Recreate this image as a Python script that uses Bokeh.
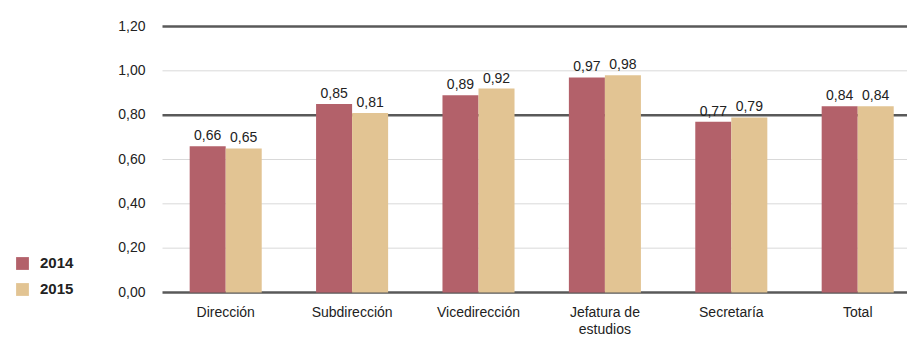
from bokeh.plotting import figure
from bokeh.models import ColumnDataSource, Legend, LegendItem, Range1d
from bokeh.core.properties import value
from bokeh.embed import file_html
from bokeh.resources import INLINE

categories = ["Dirección", "Subdirección", "Vicedirección", "Jefatura de\nestudios", "Secretaría", "Total"]
series_2014 = [0.66, 0.85, 0.89, 0.97, 0.77, 0.84]
series_2015 = [0.65, 0.81, 0.92, 0.98, 0.79, 0.84]
y_ticks = [0.0, 0.2, 0.4, 0.6, 0.8, 1.0, 1.2]
y_tick_labels = ["0,00", "0,20", "0,40", "0,60", "0,80", "1,00", "1,20"]
dark_lines = [0.0, 0.8, 1.2]
light_lines = [0.2, 0.4, 0.6, 1.0]

C14 = "#b3616a"
C15 = "#e2c493"
FONT = "Liberation Sans"
TXT = "#222222"

W, H = 907, 337
# pixel geometry of the plotting area
PX_LEFT, PX_ZERO, PX_TOP = 162, 292, 26
X_UNIT = 126.4                      # px per category
Y_UNIT = (PX_ZERO - PX_TOP) / 1.2   # px per value unit

n = len(categories)
centers = [i + 0.5 for i in range(n)]
bw = 0.285
x_end = (W - PX_LEFT) / X_UNIT

def fmt(v):
    return f"{v:.2f}".replace(".", ",")

src14 = ColumnDataSource(dict(x=[c - bw / 2 for c in centers], top=series_2014,
                              lab=[fmt(v) for v in series_2014]))
src15 = ColumnDataSource(dict(x=[c + bw / 2 for c in centers], top=series_2015,
                              lab=[fmt(v) for v in series_2015]))

p = figure(width=W, height=H, output_backend="svg", toolbar_location=None,
           x_range=Range1d(-PX_LEFT / X_UNIT, x_end),
           y_range=Range1d(-(H - PX_ZERO) / Y_UNIT, 1.2 + PX_TOP / Y_UNIT),
           min_border=0)
p.outline_line_color = None
p.background_fill_color = "white"
p.border_fill_color = "white"
p.xaxis.visible = False
p.yaxis.visible = False
p.grid.visible = False

# gridlines
p.segment(x0=[0] * len(light_lines), x1=[x_end] * len(light_lines), y0=light_lines, y1=light_lines,
          line_color="#d9d9d9", line_width=1)
p.segment(x0=[0] * len(dark_lines), x1=[x_end] * len(dark_lines), y0=dark_lines, y1=dark_lines,
          line_color="#595959", line_width=2.5)

# y tick labels
p.text(x=[0] * len(y_ticks), y=y_ticks, text=y_tick_labels, x_offset=-17, y_offset=-1,
       text_align="right", text_baseline="middle", text_font=value(FONT),
       text_font_size="14px", text_color=TXT)

# bars
r14 = p.vbar(x="x", top="top", width=bw, bottom=0, source=src14, fill_color=C14, line_color=None)
r15 = p.vbar(x="x", top="top", width=bw, bottom=0, source=src15, fill_color=C15, line_color=None)

# value labels
for src in (src14, src15):
    p.text(x="x", y="top", text="lab", source=src, text_align="center", text_baseline="alphabetic",
           y_offset=-11, text_font=value(FONT), text_font_size="14px", text_color=TXT)

# category labels
p.text(x=centers, y=[0] * n, text=categories, y_offset=11, text_align="center",
       text_baseline="top", text_font=value(FONT), text_font_size="14px", text_color=TXT,
       text_line_height=1.08)

legend = Legend(items=[LegendItem(label="2014", renderers=[r14]),
                       LegendItem(label="2015", renderers=[r15])],
                location=(14, H - 297), orientation="vertical",
                glyph_width=16, glyph_height=16, label_height=16, spacing=9,
                padding=0, margin=0, label_standoff=10,
                border_line_color=None, background_fill_alpha=0,
                label_text_font=FONT, label_text_font_size="15px",
                label_text_font_style="bold", label_text_color=TXT)
p.add_layout(legend, "center")

open("out.html", "w").write(file_html(p, INLINE))
